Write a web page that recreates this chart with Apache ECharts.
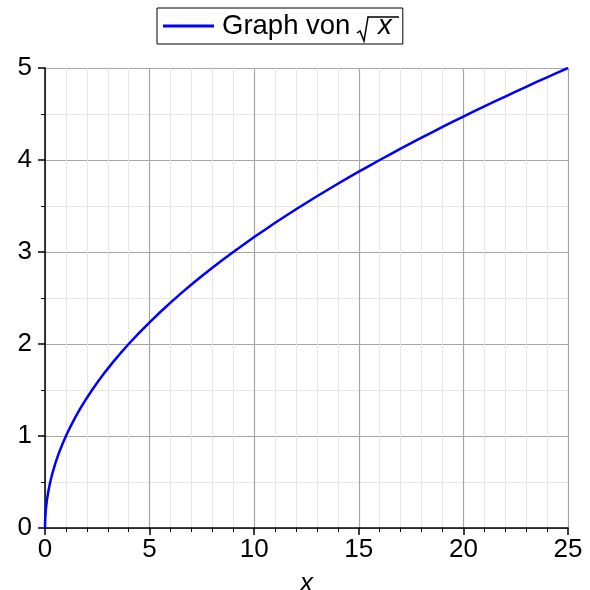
<!DOCTYPE html>
<html><head><meta charset="utf-8">
<script src="https://cdn.jsdelivr.net/npm/echarts@6/dist/echarts.min.js"></script>
<style>html,body{margin:0;padding:0;background:#fff;overflow:hidden}#c{width:590px;height:590px}</style>
</head><body><div id="c"></div>
<script>
var seriesName = 'Graph von √x';
var xValues = [0, 0.01, 0.04, 0.09, 0.16, 0.25, 0.36, 0.49, 0.64, 0.81, 1, 1.21, 1.44, 1.69, 1.96, 2.25, 2.56, 2.89, 3.24, 3.61, 4, 4.5, 5, 5.5, 6, 6.5, 7, 7.5, 8, 8.5, 9, 9.5, 10, 10.5, 11, 11.5, 12, 12.5, 13, 13.5, 14, 14.5, 15, 15.5, 16, 16.5, 17, 17.5, 18, 18.5, 19, 19.5, 20, 20.5, 21, 21.5, 22, 22.5, 23, 23.5, 24, 24.5, 25];
var yValues = [0, 0.1, 0.2, 0.3, 0.4, 0.5, 0.6, 0.7, 0.8, 0.9, 1, 1.1, 1.2, 1.3, 1.4, 1.5, 1.6, 1.7, 1.8, 1.9, 2, 2.121, 2.236, 2.345, 2.449, 2.550, 2.646, 2.739, 2.828, 2.915, 3, 3.082, 3.162, 3.240, 3.317, 3.391, 3.464, 3.536, 3.606, 3.674, 3.742, 3.808, 3.873, 3.937, 4, 4.062, 4.123, 4.183, 4.243, 4.301, 4.359, 4.416, 4.472, 4.528, 4.583, 4.637, 4.690, 4.743, 4.796, 4.848, 4.899, 4.950, 5];
var xTicks = [0, 5, 10, 15, 20, 25];
var yTicks = [0, 1, 2, 3, 4, 5];

var font = 'Liberation Sans, Arial, Helvetica, sans-serif';
var chart = echarts.init(document.getElementById('c'), null, { width: 590, height: 590 });
var pts = xValues.map(function (x, i) { return [x, yValues[i]]; });
chart.setOption({
  animation: false,
  grid: { left: 45, width: 523, top: 68, height: 460, containLabel: false, outerBoundsMode: 'none' },
  legend: {
    top: 8, left: 157,
    padding: [4, 5, 4, 6],
    borderColor: '#000', borderWidth: 1, borderRadius: 0,
    itemWidth: 51, itemHeight: 3, itemGap: 0,
    data: [{ name: seriesName, icon: 'rect' }],
    formatter: function () { return '{a|Graph von }{c|x}'; },
    textStyle: {
      color: '#000', fontFamily: font, fontSize: 27.5,
      rich: {
        a: { fontFamily: font, fontSize: 27.5, color: '#000', lineHeight: 32, padding: [0, 0, 0, 3] },
        c: { fontFamily: font, fontSize: 27.5, color: '#000', lineHeight: 32, fontStyle: 'italic', padding: [0, 6, 0, 20] }
      }
    }
  },
  xAxis: {
    type: 'value', min: 0, max: 25, interval: 5,
    name: 'x', nameLocation: 'middle', nameGap: 43,
    nameTextStyle: { fontFamily: font, fontSize: 26, fontStyle: 'italic', color: '#000' },
    axisLine: { show: true, onZero: false, lineStyle: { color: '#000', width: 1.5 } },
    axisTick: { show: true, inside: false, length: 7, lineStyle: { color: '#000', width: 1.5 } },
    minorTick: { show: true, splitNumber: 5, length: 4, lineStyle: { color: '#000', width: 1 } },
    splitLine: { show: true, lineStyle: { color: '#a6a6a6', width: 1.2 } },
    minorSplitLine: { show: true, lineStyle: { color: '#e6e6e6', width: 1 } },
    axisLabel: { fontFamily: font, fontSize: 26, color: '#000', margin: 9,
      formatter: function (v) { return xTicks.indexOf(v) >= 0 ? String(v) : ''; } }
  },
  yAxis: {
    type: 'value', min: 0, max: 5, interval: 1,
    axisLine: { show: true, onZero: false, lineStyle: { color: '#000', width: 1.5 } },
    axisTick: { show: true, inside: false, length: 7, lineStyle: { color: '#000', width: 1.5 } },
    minorTick: { show: true, splitNumber: 2, length: 4, lineStyle: { color: '#000', width: 1 } },
    splitLine: { show: true, lineStyle: { color: '#a6a6a6', width: 1.2 } },
    minorSplitLine: { show: true, lineStyle: { color: '#e6e6e6', width: 1 } },
    axisLabel: { fontFamily: font, fontSize: 26, color: '#000', margin: 13,
      formatter: function (v) { return yTicks.indexOf(v) >= 0 ? String(v) : ''; } }
  },
  series: [{
    name: seriesName, type: 'line', data: pts, showSymbol: false, smooth: false,
    lineStyle: { color: '#0000ff', width: 2.5, join: 'round' }, itemStyle: { color: '#0000ff' }, z: 5
  }],
  graphic: [{
    type: 'polyline', id: 'radical',
    shape: { points: [[357, 33], [360, 31], [364, 41], [368, 17], [399, 17]] },
    style: { stroke: '#000', lineWidth: 1.5, fill: null }, z: 100
  }]
});
</script></body></html>
